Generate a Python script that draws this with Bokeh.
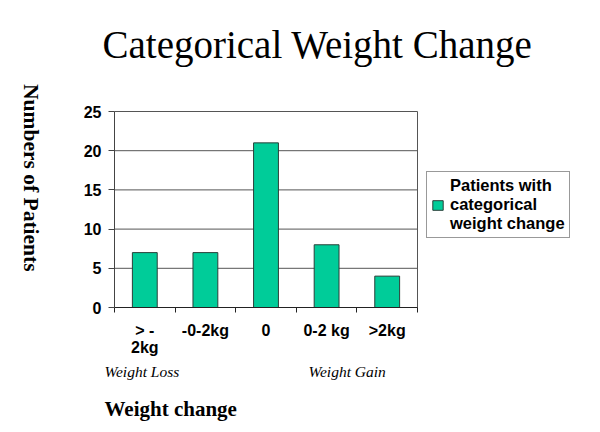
import math
from bokeh.plotting import figure
from bokeh.models import (ColumnDataSource, FixedTicker, Label, Legend, LegendItem,
                          Range1d)
from bokeh.embed import file_html
from bokeh.resources import INLINE

# ---- data ----
categories = ["> -\n2kg", "-0-2kg", "0", "0-2 kg", ">2kg"]
patients = [7, 7, 21, 8, 4]
y_ticks = [0, 5, 10, 15, 20, 25]
series_name = "Patients with\ncategorical\nweight change"
title_text = "Categorical Weight Change"
y_title = "Numbers of  Patients"
x_title = "Weight change"
loss_text = "Weight Loss"
gain_text = "Weight Gain"

n = len(categories)
ymax = y_ticks[-1]
xs = [i + 0.5 for i in range(n)]
src = ColumnDataSource(dict(x=xs, top=patients))

# ---- layout (pixels) ----
W, H = 592, 426
PL, PR, PT, PB = 114, 417, 111, 307   # plotting-area edges in canvas pixels
sx = (PR - PL) / n
sy = (PB - PT) / ymax
x_range = Range1d(-PL / sx, n + (W - PR) / sx)
y_range = Range1d(-(H - PB) / sy, ymax + PT / sy)

p = figure(width=W, height=H, output_backend="svg", toolbar_location=None,
           title=None, x_range=x_range, y_range=y_range, min_border=0)
p.background_fill_color = "white"
p.border_fill_color = "white"
p.outline_line_color = None
p.xgrid.visible = False
p.ygrid.visible = False

GRID = "#555555"
# horizontal grid lines across the plotting area and right border
p.segment(x0=[0] * len(y_ticks), x1=[n] * len(y_ticks), y0=y_ticks, y1=y_ticks,
          line_color=GRID, line_width=1)
p.segment(x0=[n], x1=[n], y0=[0], y1=[ymax], line_color=GRID, line_width=1)

bars = p.vbar(x="x", top="top", width=0.41, bottom=0, source=src,
              fill_color="#00CC99", line_color="#2b3f39", line_width=1)

# x axis: labels centred, tick marks at category boundaries
xa = p.xaxis[0]
xa.fixed_location = 0
xa.bounds = (0, n)
xa.ticker = FixedTicker(ticks=xs, minor_ticks=list(range(n + 1)))
xa.major_label_overrides = {x: c for x, c in zip(xs, categories)}
xa.major_tick_out = 0
xa.major_tick_in = 0
xa.minor_tick_out = 5
xa.minor_tick_in = 0
xa.minor_tick_line_color = "#222222"
xa.axis_line_color = "#222222"
xa.major_label_standoff = 9
xa.major_label_text_font = "Liberation Sans"
xa.major_label_text_font_style = "bold"
xa.major_label_text_font_size = "16px"
xa.major_label_text_color = "#000000"
xa.major_label_text_line_height = 1.0

ya = p.yaxis[0]
ya.fixed_location = 0
ya.bounds = (0, ymax)
ya.ticker = FixedTicker(ticks=y_ticks)
ya.major_tick_out = 6
ya.major_tick_in = 0
ya.minor_tick_out = 0
ya.minor_tick_in = 0
ya.axis_line_color = "#444444"
ya.major_tick_line_color = "#444444"
ya.major_label_standoff = 7
ya.major_label_text_font = "Liberation Sans"
ya.major_label_text_font_style = "bold"
ya.major_label_text_font_size = "16px"
ya.major_label_text_color = "#000000"

legend = Legend(items=[LegendItem(label=series_name, renderers=[bars])],
                location=(426, H - 238), margin=0, padding=4, spacing=0,
                glyph_width=13, glyph_height=12, label_standoff=6,
                label_height=10,
                label_text_font="Liberation Sans", label_text_font_style="bold",
                label_text_font_size="16.5px", label_text_color="#000000",
                label_text_line_height=0.82,
                border_line_color="#333333", border_line_width=1,
                background_fill_color="white")
p.add_layout(legend)

# texts, positioned in canvas pixels (x from left, y from top)
def lab(text, px, py, **kw):
    p.add_layout(Label(x=px, y=H - py, x_units="screen", y_units="screen",
                       text=text, text_color="#000000", **kw))

lab(title_text, 317, 44, text_font="Liberation Serif", text_font_size="39px",
    text_align="center", text_baseline="alphabetic")
lab(y_title, 30, 180, text_font="Liberation Serif", text_font_size="21.5px",
    text_font_style="bold", text_align="center", text_baseline="middle",
    angle=-math.pi / 2)
lab(loss_text, 104, 371, text_font="Liberation Serif", text_font_size="15.5px",
    text_font_style="italic", text_align="left", text_baseline="alphabetic")
lab(gain_text, 308, 371, text_font="Liberation Serif", text_font_size="15.5px",
    text_font_style="italic", text_align="left", text_baseline="alphabetic")
lab(x_title, 104, 408, text_font="Liberation Serif", text_font_size="21px",
    text_font_style="bold", text_align="left", text_baseline="alphabetic")

open("out.html", "w").write(file_html(p, INLINE))
